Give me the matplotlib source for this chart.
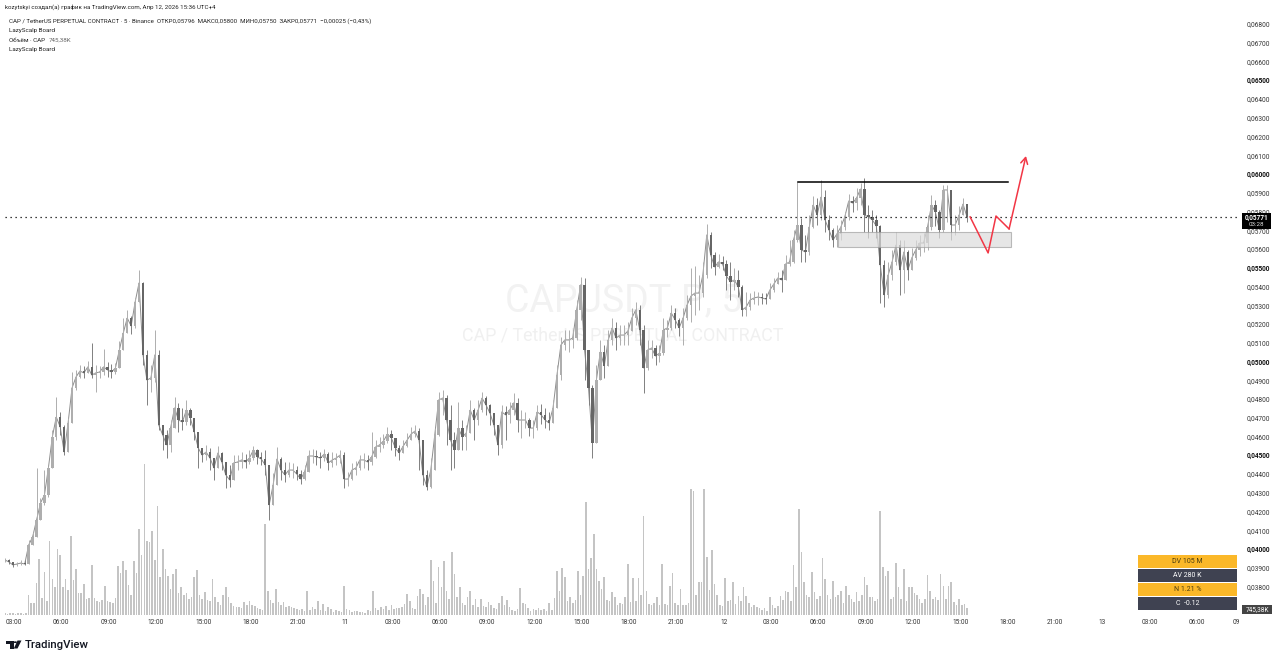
import numpy as np
import matplotlib
matplotlib.use("Agg")
import matplotlib.pyplot as plt
from matplotlib.patches import Rectangle, Polygon

plt.rcParams['font.family'] = ['Roboto', 'DejaVu Sans']

# 15 minute candles, prices in 0.00001 units
close_raw = [3941,3931,3915,3920,3925,3920,4021,4064,4155,4245,4288,4432,4597,4704,4651,4517,4672,4859,4917,4949,
4939,4971,4928,4939,4944,4971,4955,4944,4965,5061,5152,5232,5189,5317,5419,5035,4901,4912,5035,4661,
4608,4555,4645,4752,4688,4677,4741,4699,4624,4539,4501,4517,4485,4432,4512,4464,4395,4368,4459,4464,
4475,4464,4485,4528,4491,4480,4448,4235,4341,4480,4421,4395,4421,4421,4400,4373,4411,4496,4496,4491,
4485,4507,4459,4475,4485,4501,4373,4373,4421,4432,4475,4475,4464,4491,4544,4555,4576,4613,4592,4539,
4512,4549,4581,4613,4629,4581,4395,4331,4421,4608,4795,4805,4688,4581,4528,4645,4597,4619,4741,4688,
4741,4805,4768,4725,4661,4555,4731,4715,4741,4779,4688,4688,4688,4645,4645,4731,4715,4688,4672,4752,
4928,5088,5115,5115,5125,5275,5408,5061,4859,4565,4901,5051,4976,5115,5179,5125,5141,5141,5163,5232,
5275,5168,4965,5061,5072,5029,5045,5168,5179,5259,5221,5179,5232,5301,5349,5365,5365,5461,5675,5568,
5504,5531,5520,5456,5424,5435,5397,5275,5291,5328,5339,5344,5339,5333,5381,5413,5445,5435,5520,5531,
5648,5728,5595,5584,5717,5835,5781,5877,5755,5701,5648,5680,5717,5771,5856,5845,5872,5920,5781,5771,
5755,5723,5515,5355,5461,5531,5621,5488,5584,5488,5552,5595,5632,5632,5717,5835,5797,5701,5915,5915,
5728,5728,5781,5840,5771]
high_raw = [3952,3947,3931,3931,3941,3941,4048,4091,4432,4272,4421,4443,4635,4811,4731,4661,4699,4944,4955,4981,
4976,5003,5099,4981,4976,5067,4997,4987,4992,5109,5232,5275,5243,5339,5488,5424,5061,4981,5168,5061,
4661,4635,4688,4811,4779,4752,4795,4752,4688,4592,4539,4555,4539,4485,4549,4517,4464,4448,4501,4501,
4517,4507,4528,4549,4533,4517,4528,4421,4405,4544,4491,4464,4464,4459,4443,4421,4448,4528,4533,4528,
4517,4533,4517,4517,4512,4528,4517,4411,4459,4469,4501,4512,4501,4624,4581,4597,4613,4651,4635,4581,
4555,4581,4619,4651,4661,4645,4581,4421,4485,4645,4837,4848,4821,4768,4624,4784,4688,4661,4795,4752,
4795,4837,4816,4773,4715,4635,4768,4763,4784,4832,4805,4741,4731,4699,4688,4768,4773,4752,4731,4795,
4981,5131,5168,5168,5168,5328,5451,5445,5008,4875,4981,5115,5088,5168,5232,5211,5195,5195,5211,5285,
5317,5301,5195,5115,5115,5088,5088,5232,5221,5301,5285,5232,5285,5355,5499,5509,5461,5531,5733,5691,
5584,5573,5563,5541,5531,5499,5488,5408,5371,5365,5376,5371,5365,5365,5419,5445,5477,5488,5568,5648,
5701,5957,5765,5675,5781,5883,5872,5968,5915,5781,5712,5728,5755,5797,5893,5883,5925,5952,5979,5835,
5808,5781,5728,5541,5531,5595,5691,5648,5648,5595,5605,5648,5675,5685,5781,5888,5861,5808,5941,5941,
5888,5781,5829,5872,5835]
low_raw = [3931,3920,3904,3909,3915,3915,3925,4021,4101,4181,4235,4277,4544,4581,4608,4501,4528,4768,4848,4912,
4912,4944,4912,4837,4912,4928,4917,4912,4933,4965,5061,5157,5147,5179,5328,4981,4768,4837,4891,4635,
4528,4485,4517,4661,4624,4635,4661,4661,4581,4432,4464,4475,4421,4368,4464,4421,4325,4331,4411,4421,
4432,4432,4453,4475,4453,4448,4395,4155,4288,4421,4368,4357,4384,4379,4368,4347,4368,4411,4459,4448,
4432,4469,4421,4437,4448,4459,4325,4336,4368,4395,4421,4432,4421,4448,4485,4517,4539,4565,4528,4496,
4475,4517,4544,4581,4597,4421,4341,4315,4325,4544,4603,4715,4555,4421,4432,4539,4528,4528,4661,4581,
4661,4731,4715,4661,4608,4501,4539,4581,4672,4715,4624,4592,4645,4603,4592,4635,4667,4645,4635,4688,
4795,4901,5061,5051,5072,5115,5221,4901,4768,4485,4795,4928,4912,4981,5088,5061,5088,5088,5088,5168,
5195,5088,4832,4955,5019,4981,4997,5035,5131,5168,5179,5136,5088,5221,5211,5248,5275,5344,5445,5499,
5461,5499,5488,5381,5328,5381,5344,5243,5243,5275,5307,5301,5307,5307,5349,5371,5413,5371,5488,5509,
5525,5637,5531,5531,5568,5712,5728,5755,5691,5648,5611,5611,5648,5701,5755,5797,5808,5835,5691,5659,
5691,5659,5312,5291,5339,5435,5515,5355,5365,5435,5499,5541,5563,5584,5595,5701,5723,5659,5691,5744,
5648,5675,5701,5781,5744]

# 10 minute volume, millions
volume_m = [0.2,0.1,0.2,0.2,0.1,0.2,0.2,0.1,0.2,2.0,
1.2,1.2,3.2,5.6,1.7,4.3,1.4,7.4,3.6,2.8,
6.6,6.0,2.8,3.6,2.5,7.9,3.5,4.6,2.2,2.2,
3.1,1.6,1.7,5.0,1.7,1.4,1.3,1.5,2.9,1.4,
1.3,1.2,1.7,4.9,4.2,5.4,4.5,3.0,2.0,5.4,
4.2,8.6,6.0,15.1,7.4,7.3,8.4,5.5,10.9,3.8,
6.6,4.6,3.9,2.6,4.1,4.6,2.2,2.8,2.0,2.2,
1.6,1.8,3.8,4.5,2.0,1.6,2.3,1.5,1.4,3.6,
1.8,1.3,1.0,2.0,2.8,1.8,1.2,0.9,0.8,0.8,
0.7,1.3,1.0,1.4,1.0,0.9,0.7,0.6,0.5,9.1,
2.4,1.5,1.2,2.6,1.3,1.0,1.3,0.8,0.9,0.8,
0.7,0.6,0.5,0.6,0.4,2.4,0.5,0.8,0.6,1.4,
0.5,1.1,0.4,0.8,0.6,0.3,0.5,0.4,0.3,2.9,
0.6,0.5,0.3,0.4,0.4,0.3,0.3,0.2,0.5,0.4,
2.4,0.7,0.5,0.8,0.6,0.9,0.5,1.0,0.6,0.7,
0.7,0.8,1.1,2.1,1.4,0.7,0.6,1.9,2.6,2.1,
1.0,1.8,5.5,3.4,1.2,4.8,2.8,5.4,2.4,1.6,
6.3,4.1,1.8,2.8,1.2,1.0,1.8,2.4,1.0,1.6,
0.8,1.6,0.9,0.8,1.3,1.0,0.7,0.6,1.2,1.9,
1.0,1.5,0.8,0.5,0.4,0.6,2.7,1.2,1.1,0.7,
0.4,0.6,0.5,0.7,0.5,0.6,0.4,1.2,0.5,1.7,
4.4,2.4,4.7,3.8,1.4,1.8,1.2,1.5,4.4,2.0,
3.9,11.3,4.6,5.7,8.1,4.6,3.4,2.6,3.8,1.5,
1.4,2.3,1.8,1.0,1.2,1.1,1.8,5.1,1.3,3.7,
1.4,3.7,2.0,9.9,2.4,1.1,1.0,1.2,1.8,1.0,
5.1,1.1,1.0,2.9,4.2,1.2,1.0,2.6,1.0,1.0,
1.2,12.6,12.4,2.0,3.3,3.3,12.6,5.8,2.5,6.5,
3.1,2.0,1.0,0.9,3.7,1.4,1.5,3.3,1.1,1.9,
1.4,2.8,1.9,1.2,0.8,1.0,0.8,0.7,0.5,0.7,
0.4,1.8,1.0,0.7,0.9,1.9,1.5,2.4,2.3,1.4,
5.0,2.8,10.6,6.3,3.3,2.0,1.8,4.3,2.3,1.6,
1.9,5.7,3.6,2.0,1.6,3.4,1.8,2.0,2.4,1.2,
2.9,2.0,1.6,1.3,2.3,1.4,2.0,3.8,3.0,1.8,
1.8,1.4,1.6,10.4,4.8,3.9,4.4,1.6,1.8,5.2,
2.8,1.6,4.6,1.4,2.8,2.8,2.2,2.0,1.6,1.2,
1.6,4.0,2.4,1.6,1.8,1.5,4.1,2.9,1.6,2.9,
3.3,1.3,1.0,1.6,1.0,1.1,0.745]

time_labels = ['03:00','06:00','09:00','12:00','15:00','18:00','21:00','11',
               '03:00','06:00','09:00','12:00','15:00','18:00','21:00','12',
               '03:00','06:00','09:00','12:00','15:00','18:00','21:00','13',
               '03:00','06:00','09']
price_ticks = [0.038,0.039,0.040,0.041,0.042,0.043,0.044,0.045,0.046,0.047,0.048,0.049,0.050,0.051,
               0.052,0.053,0.054,0.055,0.056,0.057,0.058,0.059,0.060,0.061,0.062,0.063,0.064,0.065,0.066,0.067,0.068]
strong_ticks = [0.040,0.045,0.050,0.055,0.060,0.065]

last_price = 0.05771
level_price = 0.0596
zone_prices = [0.05611, 0.05691]
zone_hours = [52.25, 63.22]
path_hours = [60.63, 61.77, 62.27, 63.1, 64.17]
path_prices = [0.05771, 0.05579, 0.05776, 0.05707, 0.06096]

W, H = 1280, 660
fig = plt.figure(figsize=(W/100, H/100), dpi=100, facecolor='white')
L, R, T, B = 5, 1240, 14, 615
ax = fig.add_axes([L/W, 1-B/H, (R-L)/W, (B-T)/H])
vax = ax.twinx()
ax.set_zorder(2)
vax.set_zorder(1)
ax.patch.set_visible(False)

px_h = 15.77
close = np.array(close_raw)/1e5
high = np.array(high_raw)/1e5
low = np.array(low_raw)/1e5
opens = np.r_[close[0], close[:-1]]
high = np.maximum(high, np.maximum(opens, close))
low = np.minimum(low, np.minimum(opens, close))
t = -0.57 + 0.25*np.arange(len(close))
up = close >= opens

# volume
vt = -0.57 + (10/60)*np.arange(len(volume_m))
vax.bar(vt, volume_m, width=1.6/px_h, color='#c4c4c4', linewidth=0)

# candles
up_col, down_col = '#aeaeae', '#666666'
ax.plot(t, close, color='#8e8e8e', lw=0.7, zorder=3)
ax.vlines(t[up], low[up], high[up], color=up_col, lw=0.7, zorder=3)
ax.vlines(t[~up], low[~up], high[~up], color='#808080', lw=0.7, zorder=3)
ax.bar(t[up], (close-opens)[up], bottom=opens[up], width=2.4/px_h, color=up_col, linewidth=0, zorder=4)
ax.bar(t[~up], (close-opens)[~up], bottom=opens[~up], width=2.4/px_h, color=down_col, linewidth=0, zorder=4)

ax.set_xlim((L-14)/px_h, (R-14)/px_h)
ax.set_ylim(0.06-(B-174)/18750, 0.06+(174-T)/18750)
vax.set_ylim(0, (B-T)*0.1)
vax.set_yticks([])

ax.yaxis.tick_right()
ax.set_yticks(price_ticks)
ax.set_yticklabels([f'{v:.5f}'.replace('.', ',') for v in price_ticks], fontsize=4.7, color='#333333')
for lab, v in zip(ax.get_yticklabels(), price_ticks):
    if v in strong_ticks:
        lab.set_fontweight('bold')
        lab.set_color('#111111')
ax.set_xticks([3*k for k in range(len(time_labels)-1)] + [77.5])
ax.set_xticklabels(time_labels, fontsize=4.7, color='#333333')
ax.tick_params(axis='both', length=0)
ax.tick_params(axis='y', pad=5)
ax.tick_params(axis='x', pad=3)
for a in (ax, vax):
    for s in a.spines.values():
        s.set_visible(False)

# watermark
fig.text(624/W, 1-301/H, 'CAPUSDT.P, 5', fontsize=27, color='#f2f2f2', ha='center', va='center', zorder=0)
fig.text(623/W, 1-336/H, 'CAP / TetherUS PERPETUAL CONTRACT', fontsize=12.9, color='#f0f0f0', ha='center', va='center', zorder=0)

# drawings
ax.axhline(last_price, color='black', lw=0.9, ls=(0, (1, 3)), zorder=5)
ax.plot([(798-14)/px_h, (1008-14)/px_h], [level_price, level_price], color='black', lw=1.1, zorder=6)
ax.add_patch(Rectangle((zone_hours[0], zone_prices[0]), zone_hours[1]-zone_hours[0], zone_prices[1]-zone_prices[0],
                       facecolor='#dcdcdc', edgecolor='#a0a0a0', lw=0.8, alpha=0.7, zorder=5))
ax.plot(path_hours[:-1], path_prices[:-1], color='#f23645', lw=1.1, zorder=7)
ax.annotate('', xy=(path_hours[-1], path_prices[-1]), xytext=(path_hours[-2], path_prices[-2]),
            arrowprops=dict(arrowstyle='->,head_length=0.45,head_width=0.25', color='#f23645', lw=1.1,
                            shrinkA=0, shrinkB=0), zorder=7)

# header
fig.text(5/W, 1-7.5/H, 'kozytskyi создал(а) график на TradingView.com, Апр 12, 2026 15:36 UTC+4',
         fontsize=4.45, color='#222222', va='center')
fig.text(9/W, 1-21/H, 'CAP / TetherUS PERPETUAL CONTRACT · 5 · Binance  ОТКР0,05796  МАКС0,05800  МИН0,05750  ЗАКР0,05771  −0,00025 (−0,43%)',
         fontsize=4.42, color='#222222', va='center')
fig.text(9/W, 1-30.5/H, 'LazyScalp Board', fontsize=4.5, color='#222222', va='center')
fig.text(9/W, 1-40/H, 'Объём · CAP', fontsize=4.5, color='#222222', va='center')
fig.text(49/W, 1-40/H, '745,38K', fontsize=4.5, color='#666666', va='center')
fig.text(9/W, 1-49/H, 'LazyScalp Board', fontsize=4.5, color='#222222', va='center')

def box(x0, y0, x1, y1, color, z=5):
    fig.add_artist(Rectangle((x0/W, 1-y1/H), (x1-x0)/W, (y1-y0)/H, transform=fig.transFigure,
                             facecolor=color, edgecolor='none', zorder=z))

# price and volume tags
box(1242, 213, 1271, 229, 'black')
fig.text(1256.5/W, 1-217.5/H, '0,05771', fontsize=4.7, color='white', ha='center', va='center', fontweight='bold', zorder=6)
fig.text(1256.5/W, 1-225/H, '03:28', fontsize=4.5, color='#dddddd', ha='center', va='center', zorder=6)
box(1242, 605, 1272, 614, '#444444')
fig.text(1257/W, 1-609.7/H, '745,38K', fontsize=4.7, color='white', ha='center', va='center', zorder=6)

# stats table
rows = ['DV 105 M', 'AV 280 K', 'N 1.21 %', 'C  -0.12']
row_tops = [555, 569, 583, 597]
for k, (txt, y0) in enumerate(zip(rows, row_tops)):
    box(1138, y0, 1237, y0+13, '#fbb829' if k % 2 == 0 else '#3f4251')
    fig.text(1187.5/W, 1-(y0+6.7)/H, txt, fontsize=5, color='#4a3c10' if k % 2 == 0 else 'white',
             ha='center', va='center', zorder=6)

# logo
logo = '#131722'
for pts in ([(6, 640.5), (13.5, 640.5), (13.5, 648.5), (10, 648.5), (10, 644), (6, 644)],
            [(17.5, 640.5), (21.5, 640.5), (17.5, 648.5), (13.8, 648.5)]):
    fig.add_artist(Polygon([(x/W, 1-y/H) for x, y in pts], transform=fig.transFigure, facecolor=logo, edgecolor='none'))
fig.add_artist(plt.Circle((15.3/W, 1-642.2/H), 1.7/W, transform=fig.transFigure, facecolor=logo, edgecolor='none'))
fig.text(25/W, 1-644.5/H, 'TradingView', fontsize=8.2, color=logo, fontweight='medium', va='center')

fig.savefig('out.png', dpi=100)
